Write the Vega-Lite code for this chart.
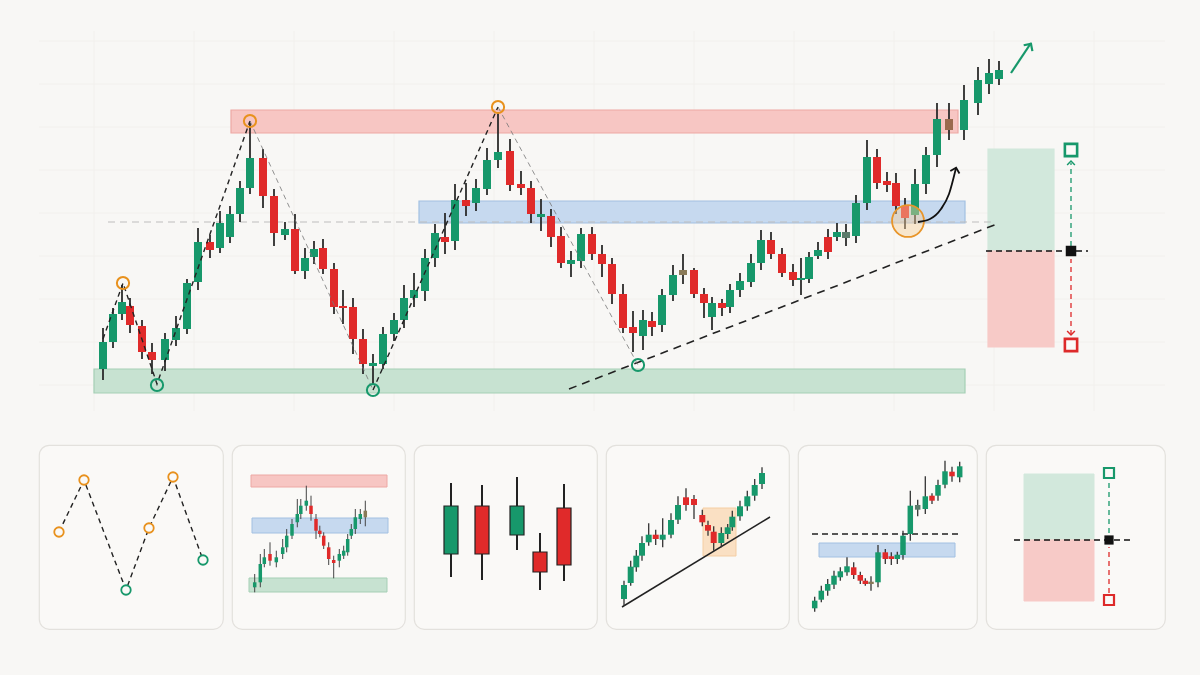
{
"$schema": "https://vega.github.io/schema/vega-lite/v6.json",
"background": "#f8f7f5",
"padding": {"left": 38, "top": 30, "right": 36, "bottom": 45},
"spacing": 32,
"center": false,
"config": {"view": {"stroke": null}, "legend": {"disable": true}},
"datasets": {
"cm": [
{"x":102,"o":32,"c":59,"h":73,"l":21,"k":"up"},
{"x":112,"o":59,"c":87,"h":93,"l":53,"k":"up"},
{"x":121,"o":87,"c":99,"h":116,"l":81,"k":"up"},
{"x":129,"o":95,"c":76,"h":103,"l":68,"k":"dn"},
{"x":141,"o":75,"c":49,"h":81,"l":42,"k":"dn"},
{"x":151,"o":49,"c":41,"h":58,"l":27,"k":"dn"},
{"x":164,"o":41,"c":62,"h":68,"l":30,"k":"up"},
{"x":175,"o":61,"c":73,"h":85,"l":55,"k":"up"},
{"x":186,"o":72,"c":118,"h":122,"l":67,"k":"up"},
{"x":197,"o":119,"c":159,"h":173,"l":111,"k":"up"},
{"x":209,"o":159,"c":151,"h":166,"l":143,"k":"dn"},
{"x":219,"o":153,"c":178,"h":190,"l":148,"k":"up"},
{"x":229,"o":164,"c":187,"h":195,"l":158,"k":"up"},
{"x":239,"o":187,"c":213,"h":220,"l":179,"k":"up"},
{"x":249,"o":213,"c":243,"h":278,"l":207,"k":"up"},
{"x":262,"o":243,"c":205,"h":252,"l":193,"k":"dn"},
{"x":273,"o":205,"c":168,"h":212,"l":155,"k":"dn"},
{"x":284,"o":166,"c":172,"h":179,"l":161,"k":"up"},
{"x":294,"o":172,"c":130,"h":187,"l":127,"k":"dn"},
{"x":304,"o":130,"c":143,"h":153,"l":122,"k":"up"},
{"x":313,"o":144,"c":152,"h":160,"l":137,"k":"up"},
{"x":322,"o":153,"c":132,"h":162,"l":127,"k":"dn"},
{"x":333,"o":132,"c":94,"h":138,"l":87,"k":"dn"},
{"x":342,"o":95,"c":93,"h":111,"l":77,"k":"dn"},
{"x":352,"o":94,"c":62,"h":103,"l":47,"k":"dn"},
{"x":362,"o":62,"c":37,"h":72,"l":27,"k":"dn"},
{"x":372,"o":35,"c":38,"h":47,"l":17,"k":"up"},
{"x":382,"o":37,"c":67,"h":74,"l":32,"k":"up"},
{"x":393,"o":67,"c":81,"h":88,"l":60,"k":"up"},
{"x":403,"o":81,"c":103,"h":116,"l":73,"k":"up"},
{"x":413,"o":103,"c":111,"h":128,"l":94,"k":"up"},
{"x":424,"o":110,"c":143,"h":152,"l":100,"k":"up"},
{"x":434,"o":143,"c":168,"h":177,"l":134,"k":"up"},
{"x":444,"o":164,"c":159,"h":188,"l":147,"k":"dn"},
{"x":454,"o":160,"c":201,"h":217,"l":151,"k":"up"},
{"x":465,"o":201,"c":195,"h":218,"l":185,"k":"dn"},
{"x":475,"o":198,"c":213,"h":222,"l":190,"k":"up"},
{"x":486,"o":212,"c":241,"h":253,"l":206,"k":"up"},
{"x":497,"o":241,"c":249,"h":288,"l":233,"k":"up"},
{"x":509,"o":250,"c":216,"h":262,"l":210,"k":"dn"},
{"x":520,"o":217,"c":213,"h":230,"l":206,"k":"dn"},
{"x":530,"o":213,"c":187,"h":220,"l":178,"k":"dn"},
{"x":540,"o":184,"c":187,"h":202,"l":170,"k":"up"},
{"x":550,"o":185,"c":164,"h":192,"l":154,"k":"dn"},
{"x":560,"o":165,"c":138,"h":174,"l":133,"k":"dn"},
{"x":570,"o":137,"c":141,"h":150,"l":124,"k":"up"},
{"x":580,"o":140,"c":167,"h":173,"l":133,"k":"up"},
{"x":591,"o":167,"c":147,"h":174,"l":141,"k":"dn"},
{"x":601,"o":147,"c":137,"h":156,"l":124,"k":"dn"},
{"x":611,"o":137,"c":107,"h":143,"l":97,"k":"dn"},
{"x":622,"o":107,"c":73,"h":117,"l":68,"k":"dn"},
{"x":632,"o":74,"c":68,"h":90,"l":49,"k":"dn"},
{"x":642,"o":65,"c":81,"h":91,"l":51,"k":"up"},
{"x":651,"o":80,"c":74,"h":89,"l":65,"k":"dn"},
{"x":661,"o":76,"c":106,"h":112,"l":69,"k":"up"},
{"x":672,"o":106,"c":126,"h":136,"l":100,"k":"up"},
{"x":682,"o":126,"c":131,"h":147,"l":117,"k":"nb"},
{"x":693,"o":131,"c":107,"h":133,"l":103,"k":"dn"},
{"x":703,"o":107,"c":98,"h":113,"l":83,"k":"dn"},
{"x":711,"o":84,"c":98,"h":104,"l":71,"k":"up"},
{"x":721,"o":98,"c":93,"h":102,"l":85,"k":"dn"},
{"x":729,"o":94,"c":111,"h":117,"l":88,"k":"up"},
{"x":739,"o":111,"c":120,"h":128,"l":104,"k":"up"},
{"x":750,"o":119,"c":138,"h":147,"l":114,"k":"up"},
{"x":760,"o":138,"c":161,"h":171,"l":131,"k":"up"},
{"x":770,"o":161,"c":147,"h":169,"l":142,"k":"dn"},
{"x":781,"o":147,"c":128,"h":153,"l":124,"k":"dn"},
{"x":792,"o":129,"c":121,"h":137,"l":115,"k":"dn"},
{"x":800,"o":121,"c":123,"h":143,"l":106,"k":"up"},
{"x":808,"o":122,"c":144,"h":149,"l":118,"k":"up"},
{"x":817,"o":145,"c":151,"h":159,"l":142,"k":"up"},
{"x":827,"o":164,"c":149,"h":172,"l":142,"k":"dn"},
{"x":836,"o":164,"c":169,"h":178,"l":160,"k":"up"},
{"x":845,"o":163,"c":169,"h":177,"l":155,"k":"ng"},
{"x":855,"o":165,"c":198,"h":206,"l":158,"k":"up"},
{"x":866,"o":198,"c":244,"h":261,"l":191,"k":"up"},
{"x":876,"o":244,"c":218,"h":252,"l":212,"k":"dn"},
{"x":886,"o":220,"c":216,"h":229,"l":209,"k":"dn"},
{"x":895,"o":218,"c":195,"h":228,"l":187,"k":"dn"},
{"x":904,"o":195,"c":183,"h":203,"l":172,"k":"dn"},
{"x":914,"o":186,"c":217,"h":232,"l":177,"k":"up"},
{"x":925,"o":217,"c":246,"h":254,"l":207,"k":"up"},
{"x":936,"o":246,"c":282,"h":298,"l":234,"k":"up"},
{"x":948,"o":282,"c":271,"h":298,"l":261,"k":"nr"},
{"x":963,"o":271,"c":301,"h":316,"l":261,"k":"up"},
{"x":977,"o":298,"c":321,"h":334,"l":286,"k":"up"},
{"x":988,"o":317,"c":328,"h":342,"l":307,"k":"up"},
{"x":998,"o":322,"c":331,"h":340,"l":316,"k":"up"}
],
"c2": [
{"x":22.7,"o":41.7,"c":46.7,"h":55,"l":36.7,"k":"up"},
{"x":28.3,"o":46.7,"c":65,"h":75,"l":41.7,"k":"up"},
{"x":32.3,"o":65,"c":71.7,"h":80,"l":61.7,"k":"up"},
{"x":38,"o":75,"c":68.3,"h":86.7,"l":63.3,"k":"dn"},
{"x":44.3,"o":66.7,"c":71.7,"h":78.3,"l":61.7,"k":"up"},
{"x":50.7,"o":75,"c":81.7,"h":90,"l":70,"k":"up"},
{"x":54.7,"o":81.7,"c":93.3,"h":100,"l":76.7,"k":"up"},
{"x":60,"o":93.3,"c":105,"h":110,"l":90,"k":"up"},
{"x":65.3,"o":106.7,"c":115,"h":130,"l":101.7,"k":"up"},
{"x":68.8,"o":115,"c":123.3,"h":130,"l":110,"k":"up"},
{"x":74.3,"o":123.3,"c":128.3,"h":143.3,"l":118.3,"k":"up"},
{"x":79,"o":123.3,"c":115,"h":133.3,"l":108.3,"k":"dn"},
{"x":84,"o":110,"c":98.3,"h":115,"l":90,"k":"dn"},
{"x":87.8,"o":98.3,"c":95,"h":103.3,"l":91.7,"k":"dn"},
{"x":91.7,"o":93.3,"c":83.3,"h":96.7,"l":80,"k":"dn"},
{"x":96.7,"o":81.7,"c":70,"h":86.7,"l":64,"k":"dn"},
{"x":101.7,"o":69,"c":66,"h":73.3,"l":50.7,"k":"dn"},
{"x":107.3,"o":68.3,"c":75,"h":80,"l":61.7,"k":"up"},
{"x":111.7,"o":73.3,"c":78.3,"h":83.3,"l":70,"k":"up"},
{"x":115.7,"o":76.7,"c":90,"h":95,"l":73.3,"k":"up"},
{"x":119.3,"o":93.3,"c":100,"h":105,"l":90,"k":"up"},
{"x":123.3,"o":100,"c":111.7,"h":120,"l":95,"k":"up"},
{"x":128.3,"o":110,"c":115,"h":120,"l":105,"k":"up"},
{"x":133.3,"o":118.3,"c":111.7,"h":128.3,"l":102.7,"k":"nb"}
],
"c3": [
{"x":37,"o":75,"c":123,"h":146,"l":52,"k":"up"},
{"x":68,"o":123,"c":75,"h":144,"l":49,"k":"dn"},
{"x":103,"o":94,"c":123,"h":152,"l":79,"k":"up"},
{"x":126,"o":77,"c":57,"h":96,"l":39,"k":"dn"},
{"x":150,"o":121,"c":64,"h":145,"l":48,"k":"dn"}
],
"c4": [
{"x":18,"o":30,"c":44,"h":48.3,"l":23.3,"k":"up"},
{"x":24.7,"o":46,"c":62.3,"h":68.3,"l":43.3,"k":"up"},
{"x":30.3,"o":61.7,"c":73.3,"h":79,"l":57.3,"k":"up"},
{"x":36,"o":73.3,"c":86,"h":92.7,"l":68.3,"k":"up"},
{"x":42.7,"o":86.7,"c":94.3,"h":105.7,"l":83.3,"k":"up"},
{"x":49.7,"o":94.3,"c":90,"h":99.3,"l":84,"k":"dn"},
{"x":56.7,"o":89.3,"c":94.3,"h":110.7,"l":81.7,"k":"up"},
{"x":65,"o":94.3,"c":109,"h":115.7,"l":90.7,"k":"up"},
{"x":72,"o":109.3,"c":124,"h":132.7,"l":105,"k":"up"},
{"x":80,"o":131.7,"c":124,"h":140.7,"l":118.3,"k":"dn"},
{"x":88,"o":130,"c":124,"h":134,"l":110,"k":"dn"},
{"x":96.3,"o":114,"c":106.7,"h":119.3,"l":102.7,"k":"dn"},
{"x":102,"o":104,"c":98.3,"h":108.3,"l":93.3,"k":"dn"},
{"x":107.7,"o":97.3,"c":86,"h":102.7,"l":78.3,"k":"dn"},
{"x":115.3,"o":86,"c":96,"h":101.7,"l":81.7,"k":"up"},
{"x":121.7,"o":95,"c":101.7,"h":105,"l":90,"k":"up"},
{"x":126.3,"o":101.7,"c":112.3,"h":118.3,"l":98.3,"k":"up"},
{"x":134,"o":112.7,"c":122.7,"h":128.3,"l":108.3,"k":"up"},
{"x":141.3,"o":122.7,"c":132.7,"h":138.3,"l":118.3,"k":"up"},
{"x":148.7,"o":133.3,"c":144,"h":150,"l":128.3,"k":"up"},
{"x":156,"o":145,"c":156,"h":161.7,"l":140,"k":"up"}
],
"c5": [
{"x":16.7,"o":20.7,"c":28.3,"h":32.3,"l":17.3,"k":"up"},
{"x":23.3,"o":29.3,"c":38.3,"h":43.3,"l":26.7,"k":"up"},
{"x":29.7,"o":38.3,"c":45,"h":50,"l":33.3,"k":"up"},
{"x":36,"o":44.3,"c":53.3,"h":58.3,"l":40,"k":"up"},
{"x":42.3,"o":51.7,"c":57.7,"h":61.7,"l":48.3,"k":"up"},
{"x":49,"o":56.7,"c":62.7,"h":71.7,"l":53.3,"k":"up"},
{"x":55.7,"o":61.7,"c":54,"h":66.7,"l":50,"k":"dn"},
{"x":62.3,"o":54,"c":48.3,"h":57.3,"l":45,"k":"dn"},
{"x":67.3,"o":48.3,"c":45,"h":50.7,"l":43.3,"k":"dn"},
{"x":73,"o":47.3,"c":45,"h":52.7,"l":38.3,"k":"nb"},
{"x":80,"o":46.7,"c":76.7,"h":84,"l":41.7,"k":"up"},
{"x":87.3,"o":76.7,"c":70,"h":80,"l":65,"k":"dn"},
{"x":93.3,"o":72.7,"c":70,"h":76.7,"l":64,"k":"dn"},
{"x":99.3,"o":70,"c":74.3,"h":77.3,"l":65,"k":"up"},
{"x":105,"o":74,"c":93.3,"h":98.3,"l":69.3,"k":"up"},
{"x":112.3,"o":95,"c":123.3,"h":138.3,"l":88.3,"k":"up"},
{"x":119.7,"o":119.3,"c":124,"h":129.3,"l":112.7,"k":"ng"},
{"x":127.3,"o":120,"c":132.7,"h":152.7,"l":115,"k":"up"},
{"x":134,"o":133.3,"c":128.3,"h":135.7,"l":125,"k":"dn"},
{"x":140,"o":133.3,"c":144,"h":149.3,"l":128.3,"k":"up"},
{"x":147,"o":144.3,"c":157.7,"h":168.3,"l":140.7,"k":"up"},
{"x":154,"o":157.3,"c":152.7,"h":162.3,"l":147.3,"k":"dn"},
{"x":161.7,"o":151.7,"c":162.7,"h":167.3,"l":146.7,"k":"up"}
]
},
"vconcat": [
{
"width": 1126,
"height": 380,
"layer": [
{"data": {"values": [{"x":93},{"x":193},{"x":293},{"x":393},{"x":493},{"x":593},{"x":693},{"x":793},{"x":893},{"x":993},{"x":1093}]},
 "mark": {"type": "rule", "stroke": "#f2f0ed", "strokeWidth": 1},
 "encoding": {"x": {"field":"x","type":"quantitative","scale":{"domain":[38,1164],"padding":0},"axis":null}}},
{"data": {"values": [{"y":360},{"y":317},{"y":274},{"y":231},{"y":188},{"y":145},{"y":102},{"y":59},{"y":16}]},
 "mark": {"type": "rule", "stroke": "#f2f0ed", "strokeWidth": 1},
 "encoding": {"y": {"field":"y","type":"quantitative","scale":{"domain":[-10,370]},"axis":null}}},
{"data": {"values": [
  {"x":230,"x2":957,"y":268,"y2":291,"z":"res"},
  {"x":418,"x2":964,"y":178,"y2":200,"z":"mid"},
  {"x":93,"x2":964,"y":8,"y2":32,"z":"sup"},
  {"x":987,"x2":1053,"y":150,"y2":252,"z":"rew"},
  {"x":987,"x2":1053,"y":54,"y2":150,"z":"risk"}]},
 "mark": {"type": "rect", "strokeWidth": 1.2},
 "encoding": {
  "x": {"field":"x","type":"quantitative","scale":{"domain":[38,1164],"padding":0},"axis":null},
  "x2": {"field":"x2"},
  "y": {"field":"y","type":"quantitative","scale":{"domain":[-10,370]},"axis":null},
  "y2": {"field":"y2"},
  "fill": {"field":"z","type":"nominal","scale":{"domain":["res","mid","sup","rew","risk","ob"],"range":["#f7c6c3","#c6d9ef","#c7e2d1","#d2e8dc","#f7cac7","#fadcbb"]},"legend":null},
  "stroke": {"field":"z","type":"nominal","scale":{"domain":["res","mid","sup","rew","risk","ob"],"range":["#eda8a4","#a2c0e2","#a5cfb5","#d2e8dc","#f7cac7","#f4c795"]},"legend":null}}},
{"data": {"values": [{"x":107,"x2":993,"y":179}]},
 "mark": {"type": "rule", "stroke": "#bdbdbd", "strokeDash": [7,5], "strokeWidth": 1.2},
 "encoding": {
  "x": {"field":"x","type":"quantitative","scale":{"domain":[38,1164],"padding":0},"axis":null},
  "x2": {"field":"x2"},
  "y": {"field":"y","type":"quantitative","scale":{"domain":[-10,370]},"axis":null}}},
{"data": {"values": [{"x":568,"y":12,"x2":996,"y2":177}]},
 "mark": {"type": "rule", "stroke": "#222222", "strokeDash": [8,6], "strokeWidth": 1.6},
 "encoding": {
  "x": {"field":"x","type":"quantitative","scale":{"domain":[38,1164],"padding":0},"axis":null},
  "x2": {"field":"x2"},
  "y": {"field":"y","type":"quantitative","scale":{"domain":[-10,370]},"axis":null},
  "y2": {"field":"y2"}}},
{"data": {"name": "cm"},
 "mark": {"type": "rule", "stroke": "#2b2b2b", "strokeWidth": 1.8},
 "encoding": {
  "x": {"field":"x","type":"quantitative","scale":{"domain":[38,1164],"padding":0},"axis":null},
  "y": {"field":"l","type":"quantitative","scale":{"domain":[-10,370]},"axis":null},
  "y2": {"field":"h"}}},
{"data": {"name": "cm"},
 "mark": {"type": "bar", "orient": "vertical", "width": 8},
 "encoding": {
  "x": {"field":"x","type":"quantitative","scale":{"domain":[38,1164],"padding":0},"axis":null},
  "y": {"field":"o","type":"quantitative","scale":{"domain":[-10,370]},"axis":null},
  "y2": {"field":"c"},
  "color": {"field":"k","type":"nominal","scale":{"domain":["up","dn","nb","ng","nr"],"range":["#17986b","#e02a2a","#8a7a58","#5c7b6b","#9a6a4e"]},"legend":null}}},
{"data": {"values": [{"s":"A","x":102,"y":62},{"s":"A","x":122,"y":118},{"s":"A","x":156,"y":17},{"s":"A","x":249,"y":280},{"s":"C","x":372,"y":11},{"s":"C","x":497,"y":294}]},
 "mark": {"type": "line", "stroke": "#222222", "strokeDash": [5,4], "strokeWidth": 1.4},
 "encoding": {
  "x": {"field":"x","type":"quantitative","scale":{"domain":[38,1164],"padding":0},"axis":null},
  "y": {"field":"y","type":"quantitative","scale":{"domain":[-10,370]},"axis":null},
  "detail": {"field":"s"}}},
{"data": {"values": [{"s":"B","x":249,"y":280},{"s":"B","x":372,"y":11},{"s":"D","x":497,"y":294},{"s":"D","x":637,"y":36}]},
 "mark": {"type": "line", "stroke": "#777777", "strokeDash": [5,4], "strokeWidth": 1, "opacity": 0.8},
 "encoding": {
  "x": {"field":"x","type":"quantitative","scale":{"domain":[38,1164],"padding":0},"axis":null},
  "y": {"field":"y","type":"quantitative","scale":{"domain":[-10,370]},"axis":null},
  "detail": {"field":"s"}}},
{"data": {"values": [{"x":122,"y":118},{"x":249,"y":280},{"x":497,"y":294}]},
 "mark": {"type": "point", "shape": "circle", "filled": false, "stroke": "#e8911d", "strokeWidth": 2, "size": 150, "opacity": 1},
 "encoding": {
  "x": {"field":"x","type":"quantitative","scale":{"domain":[38,1164],"padding":0},"axis":null},
  "y": {"field":"y","type":"quantitative","scale":{"domain":[-10,370]},"axis":null}}},
{"data": {"values": [{"x":156,"y":16},{"x":372,"y":11},{"x":637,"y":36}]},
 "mark": {"type": "point", "shape": "circle", "filled": false, "stroke": "#17986b", "strokeWidth": 2, "size": 150, "opacity": 1},
 "encoding": {
  "x": {"field":"x","type":"quantitative","scale":{"domain":[38,1164],"padding":0},"axis":null},
  "y": {"field":"y","type":"quantitative","scale":{"domain":[-10,370]},"axis":null}}},
{"data": {"values": [{"x":907,"y":180}]},
 "mark": {"type": "point", "shape": "circle", "filled": true, "fill": "#f6d09e", "fillOpacity": 0.45, "stroke": "#e8952a", "strokeWidth": 1.8, "strokeOpacity": 1, "size": 1018},
 "encoding": {
  "x": {"field":"x","type":"quantitative","scale":{"domain":[38,1164],"padding":0},"axis":null},
  "y": {"field":"y","type":"quantitative","scale":{"domain":[-10,370]},"axis":null}}},
{"data": {"values": [{"x":917,"y":179},{"x":929,"y":182},{"x":940,"y":192},{"x":948,"y":207},{"x":955,"y":233}]},
 "mark": {"type": "line", "interpolate": "monotone", "stroke": "#111111", "strokeWidth": 1.8},
 "encoding": {
  "x": {"field":"x","type":"quantitative","scale":{"domain":[38,1164],"padding":0},"axis":null},
  "y": {"field":"y","type":"quantitative","scale":{"domain":[-10,370]},"axis":null}}},
{"data": {"values": [{"x":954.5,"y":231}]},
 "mark": {"type": "point", "shape": "M-1,0.5L0,-0.5L1,0.5", "filled": false, "stroke": "#111111", "strokeWidth": 1.8, "size": 90, "angle": 15, "opacity": 1},
 "encoding": {
  "x": {"field":"x","type":"quantitative","scale":{"domain":[38,1164],"padding":0},"axis":null},
  "y": {"field":"y","type":"quantitative","scale":{"domain":[-10,370]},"axis":null}}},
{"data": {"values": [{"x":1010,"y":328},{"x":1030,"y":358}]},
 "mark": {"type": "line", "stroke": "#17986b", "strokeWidth": 2.2},
 "encoding": {
  "x": {"field":"x","type":"quantitative","scale":{"domain":[38,1164],"padding":0},"axis":null},
  "y": {"field":"y","type":"quantitative","scale":{"domain":[-10,370]},"axis":null}}},
{"data": {"values": [{"x":1028.5,"y":355}]},
 "mark": {"type": "point", "shape": "M-1,0.5L0,-0.5L1,0.5", "filled": false, "stroke": "#17986b", "strokeWidth": 2.2, "size": 110, "angle": 34, "opacity": 1},
 "encoding": {
  "x": {"field":"x","type":"quantitative","scale":{"domain":[38,1164],"padding":0},"axis":null},
  "y": {"field":"y","type":"quantitative","scale":{"domain":[-10,370]},"axis":null}}},
{"data": {"values": [{"x":985,"x2":1087,"y":150}]},
 "mark": {"type": "rule", "stroke": "#111111", "strokeDash": [6,4], "strokeWidth": 1.5},
 "encoding": {
  "x": {"field":"x","type":"quantitative","scale":{"domain":[38,1164],"padding":0},"axis":null},
  "x2": {"field":"x2"},
  "y": {"field":"y","type":"quantitative","scale":{"domain":[-10,370]},"axis":null}}},
{"data": {"values": [{"x":1070,"y":155,"y2":238}]},
 "mark": {"type": "rule", "stroke": "#17986b", "strokeDash": [5,4], "strokeWidth": 1.3},
 "encoding": {
  "x": {"field":"x","type":"quantitative","scale":{"domain":[38,1164],"padding":0},"axis":null},
  "y": {"field":"y","type":"quantitative","scale":{"domain":[-10,370]},"axis":null},
  "y2": {"field":"y2"}}},
{"data": {"values": [{"x":1070,"y":66,"y2":142}]},
 "mark": {"type": "rule", "stroke": "#dd2a2a", "strokeDash": [5,4], "strokeWidth": 1.3},
 "encoding": {
  "x": {"field":"x","type":"quantitative","scale":{"domain":[38,1164],"padding":0},"axis":null},
  "y": {"field":"y","type":"quantitative","scale":{"domain":[-10,370]},"axis":null},
  "y2": {"field":"y2"}}},
{"data": {"values": [{"x":1070,"y":238}]},
 "mark": {"type": "point", "shape": "M-1,0.5L0,-0.5L1,0.5", "filled": false, "stroke": "#17986b", "strokeWidth": 1.5, "size": 60, "opacity": 1},
 "encoding": {
  "x": {"field":"x","type":"quantitative","scale":{"domain":[38,1164],"padding":0},"axis":null},
  "y": {"field":"y","type":"quantitative","scale":{"domain":[-10,370]},"axis":null}}},
{"data": {"values": [{"x":1070,"y":68}]},
 "mark": {"type": "point", "shape": "M-1,0.5L0,-0.5L1,0.5", "filled": false, "stroke": "#dd2a2a", "strokeWidth": 1.5, "size": 60, "angle": 180, "opacity": 1},
 "encoding": {
  "x": {"field":"x","type":"quantitative","scale":{"domain":[38,1164],"padding":0},"axis":null},
  "y": {"field":"y","type":"quantitative","scale":{"domain":[-10,370]},"axis":null}}},
{"data": {"values": [{"x":1070,"y":251}]},
 "mark": {"type": "point", "shape": "square", "filled": true, "fill": "#fbfaf8", "stroke": "#17986b", "strokeWidth": 2.6, "size": 150, "opacity": 1},
 "encoding": {
  "x": {"field":"x","type":"quantitative","scale":{"domain":[38,1164],"padding":0},"axis":null},
  "y": {"field":"y","type":"quantitative","scale":{"domain":[-10,370]},"axis":null}}},
{"data": {"values": [{"x":1070,"y":56}]},
 "mark": {"type": "point", "shape": "square", "filled": true, "fill": "#fbfaf8", "stroke": "#dd2a2a", "strokeWidth": 2.6, "size": 150, "opacity": 1},
 "encoding": {
  "x": {"field":"x","type":"quantitative","scale":{"domain":[38,1164],"padding":0},"axis":null},
  "y": {"field":"y","type":"quantitative","scale":{"domain":[-10,370]},"axis":null}}},
{"data": {"values": [{"x":1070,"y":150}]},
 "mark": {"type": "point", "shape": "square", "filled": true, "color": "#111111", "size": 110, "opacity": 1},
 "encoding": {
  "x": {"field":"x","type":"quantitative","scale":{"domain":[38,1164],"padding":0},"axis":null},
  "y": {"field":"y","type":"quantitative","scale":{"domain":[-10,370]},"axis":null}}}
]
},
{
"spacing": 7,
"hconcat": [
{
"width": 184, "height": 184,
"view": {"stroke": "#e3e1dd", "strokeWidth": 1.2, "cornerRadius": 10, "fill": "#faf9f7"},
"layer": [
{"data": {"values": [{"x":20,"y":97},{"x":45,"y":149},{"x":87,"y":39},{"x":110,"y":101},{"x":134,"y":152},{"x":164,"y":69}]},
 "mark": {"type": "line", "stroke": "#222222", "strokeDash": [5,4], "strokeWidth": 1.4},
 "encoding": {
  "x": {"field":"x","type":"quantitative","scale":{"domain":[0,184]},"axis":null},
  "y": {"field":"y","type":"quantitative","scale":{"domain":[0,184]},"axis":null}}},
{"data": {"values": [{"x":20,"y":97},{"x":45,"y":149},{"x":110,"y":101},{"x":134,"y":152}]},
 "mark": {"type": "point", "shape": "circle", "filled": true, "fill": "#faf9f7", "stroke": "#e8911d", "strokeWidth": 1.8, "size": 90, "opacity": 1},
 "encoding": {
  "x": {"field":"x","type":"quantitative","scale":{"domain":[0,184]},"axis":null},
  "y": {"field":"y","type":"quantitative","scale":{"domain":[0,184]},"axis":null}}},
{"data": {"values": [{"x":87,"y":39},{"x":164,"y":69}]},
 "mark": {"type": "point", "shape": "circle", "filled": true, "fill": "#faf9f7", "stroke": "#17986b", "strokeWidth": 1.8, "size": 90, "opacity": 1},
 "encoding": {
  "x": {"field":"x","type":"quantitative","scale":{"domain":[0,184]},"axis":null},
  "y": {"field":"y","type":"quantitative","scale":{"domain":[0,184]},"axis":null}}}
]
},
{
"width": 173, "height": 184,
"view": {"stroke": "#e3e1dd", "strokeWidth": 1.2, "cornerRadius": 10, "fill": "#faf9f7"},
"layer": [
{"data": {"values": [
  {"x":19,"x2":155,"y":142,"y2":154,"z":"res"},
  {"x":20,"x2":156,"y":96,"y2":111,"z":"mid"},
  {"x":17,"x2":155,"y":37,"y2":51,"z":"sup"}]},
 "mark": {"type": "rect", "strokeWidth": 1},
 "encoding": {
  "x": {"field":"x","type":"quantitative","scale":{"domain":[0,173],"padding":0},"axis":null},
  "x2": {"field":"x2"},
  "y": {"field":"y","type":"quantitative","scale":{"domain":[0,184]},"axis":null},
  "y2": {"field":"y2"},
  "fill": {"field":"z","type":"nominal","scale":{"domain":["res","mid","sup","rew","risk","ob"],"range":["#f7c6c3","#c6d9ef","#c7e2d1","#d2e8dc","#f7cac7","#fadcbb"]},"legend":null},
  "stroke": {"field":"z","type":"nominal","scale":{"domain":["res","mid","sup","rew","risk","ob"],"range":["#eda8a4","#a2c0e2","#a5cfb5","#d2e8dc","#f7cac7","#f4c795"]},"legend":null}}},
{"data": {"name": "c2"},
 "mark": {"type": "rule", "stroke": "#444444", "strokeWidth": 1},
 "encoding": {
  "x": {"field":"x","type":"quantitative","scale":{"domain":[0,173],"padding":0},"axis":null},
  "y": {"field":"l","type":"quantitative","scale":{"domain":[0,184]},"axis":null},
  "y2": {"field":"h"}}},
{"data": {"name": "c2"},
 "mark": {"type": "bar", "orient": "vertical", "width": 3.5},
 "encoding": {
  "x": {"field":"x","type":"quantitative","scale":{"domain":[0,173],"padding":0},"axis":null},
  "y": {"field":"o","type":"quantitative","scale":{"domain":[0,184]},"axis":null},
  "y2": {"field":"c"},
  "color": {"field":"k","type":"nominal","scale":{"domain":["up","dn","nb","ng","nr"],"range":["#17986b","#e02a2a","#8a7a58","#5c7b6b","#9a6a4e"]},"legend":null}}}
]
},
{
"width": 183, "height": 184,
"view": {"stroke": "#e3e1dd", "strokeWidth": 1.2, "cornerRadius": 10, "fill": "#faf9f7"},
"layer": [
{"data": {"name": "c3"},
 "mark": {"type": "rule", "stroke": "#222222", "strokeWidth": 2},
 "encoding": {
  "x": {"field":"x","type":"quantitative","scale":{"domain":[0,183],"padding":0},"axis":null},
  "y": {"field":"l","type":"quantitative","scale":{"domain":[0,184]},"axis":null},
  "y2": {"field":"h"}}},
{"data": {"name": "c3"},
 "mark": {"type": "bar", "orient": "vertical", "width": 14, "stroke": "#222222", "strokeWidth": 1.2},
 "encoding": {
  "x": {"field":"x","type":"quantitative","scale":{"domain":[0,183],"padding":0},"axis":null},
  "y": {"field":"o","type":"quantitative","scale":{"domain":[0,184]},"axis":null},
  "y2": {"field":"c"},
  "color": {"field":"k","type":"nominal","scale":{"domain":["up","dn","nb","ng","nr"],"range":["#17986b","#e02a2a","#8a7a58","#5c7b6b","#9a6a4e"]},"legend":null}}}
]
},
{
"width": 183, "height": 184,
"view": {"stroke": "#e3e1dd", "strokeWidth": 1.2, "cornerRadius": 10, "fill": "#faf9f7"},
"layer": [
{"data": {"values": [{"x":97,"x2":130,"y":73,"y2":121,"z":"ob"}]},
 "mark": {"type": "rect", "strokeWidth": 1, "opacity": 0.85},
 "encoding": {
  "x": {"field":"x","type":"quantitative","scale":{"domain":[0,183],"padding":0},"axis":null},
  "x2": {"field":"x2"},
  "y": {"field":"y","type":"quantitative","scale":{"domain":[0,184]},"axis":null},
  "y2": {"field":"y2"},
  "fill": {"field":"z","type":"nominal","scale":{"domain":["res","mid","sup","rew","risk","ob"],"range":["#f7c6c3","#c6d9ef","#c7e2d1","#d2e8dc","#f7cac7","#fadcbb"]},"legend":null},
  "stroke": {"field":"z","type":"nominal","scale":{"domain":["res","mid","sup","rew","risk","ob"],"range":["#eda8a4","#a2c0e2","#a5cfb5","#d2e8dc","#f7cac7","#f4c795"]},"legend":null}}},
{"data": {"values": [{"x":16,"y":22,"x2":164,"y2":112}]},
 "mark": {"type": "rule", "stroke": "#222222", "strokeWidth": 1.5},
 "encoding": {
  "x": {"field":"x","type":"quantitative","scale":{"domain":[0,183],"padding":0},"axis":null},
  "x2": {"field":"x2"},
  "y": {"field":"y","type":"quantitative","scale":{"domain":[0,184]},"axis":null},
  "y2": {"field":"y2"}}},
{"data": {"name": "c4"},
 "mark": {"type": "rule", "stroke": "#333333", "strokeWidth": 1.3},
 "encoding": {
  "x": {"field":"x","type":"quantitative","scale":{"domain":[0,183],"padding":0},"axis":null},
  "y": {"field":"l","type":"quantitative","scale":{"domain":[0,184]},"axis":null},
  "y2": {"field":"h"}}},
{"data": {"name": "c4"},
 "mark": {"type": "bar", "orient": "vertical", "width": 6},
 "encoding": {
  "x": {"field":"x","type":"quantitative","scale":{"domain":[0,183],"padding":0},"axis":null},
  "y": {"field":"o","type":"quantitative","scale":{"domain":[0,184]},"axis":null},
  "y2": {"field":"c"},
  "color": {"field":"k","type":"nominal","scale":{"domain":["up","dn","nb","ng","nr"],"range":["#17986b","#e02a2a","#8a7a58","#5c7b6b","#9a6a4e"]},"legend":null}}}
]
},
{
"width": 179, "height": 184,
"view": {"stroke": "#e3e1dd", "strokeWidth": 1.2, "cornerRadius": 10, "fill": "#faf9f7"},
"layer": [
{"data": {"values": [{"x":21,"x2":157,"y":72,"y2":86,"z":"mid"}]},
 "mark": {"type": "rect", "strokeWidth": 1},
 "encoding": {
  "x": {"field":"x","type":"quantitative","scale":{"domain":[0,179],"padding":0},"axis":null},
  "x2": {"field":"x2"},
  "y": {"field":"y","type":"quantitative","scale":{"domain":[0,184]},"axis":null},
  "y2": {"field":"y2"},
  "fill": {"field":"z","type":"nominal","scale":{"domain":["res","mid","sup","rew","risk","ob"],"range":["#f7c6c3","#c6d9ef","#c7e2d1","#d2e8dc","#f7cac7","#fadcbb"]},"legend":null},
  "stroke": {"field":"z","type":"nominal","scale":{"domain":["res","mid","sup","rew","risk","ob"],"range":["#eda8a4","#a2c0e2","#a5cfb5","#d2e8dc","#f7cac7","#f4c795"]},"legend":null}}},
{"data": {"values": [{"x":14,"x2":162,"y":95}]},
 "mark": {"type": "rule", "stroke": "#222222", "strokeDash": [6,4], "strokeWidth": 1.5},
 "encoding": {
  "x": {"field":"x","type":"quantitative","scale":{"domain":[0,179],"padding":0},"axis":null},
  "x2": {"field":"x2"},
  "y": {"field":"y","type":"quantitative","scale":{"domain":[0,184]},"axis":null}}},
{"data": {"name": "c5"},
 "mark": {"type": "rule", "stroke": "#333333", "strokeWidth": 1.3},
 "encoding": {
  "x": {"field":"x","type":"quantitative","scale":{"domain":[0,179],"padding":0},"axis":null},
  "y": {"field":"l","type":"quantitative","scale":{"domain":[0,184]},"axis":null},
  "y2": {"field":"h"}}},
{"data": {"name": "c5"},
 "mark": {"type": "bar", "orient": "vertical", "width": 5.5},
 "encoding": {
  "x": {"field":"x","type":"quantitative","scale":{"domain":[0,179],"padding":0},"axis":null},
  "y": {"field":"o","type":"quantitative","scale":{"domain":[0,184]},"axis":null},
  "y2": {"field":"c"},
  "color": {"field":"k","type":"nominal","scale":{"domain":["up","dn","nb","ng","nr"],"range":["#17986b","#e02a2a","#8a7a58","#5c7b6b","#9a6a4e"]},"legend":null}}}
]
},
{
"width": 179, "height": 184,
"view": {"stroke": "#e3e1dd", "strokeWidth": 1.2, "cornerRadius": 10, "fill": "#faf9f7"},
"layer": [
{"data": {"values": [
  {"x":38,"x2":108,"y":89,"y2":155,"z":"rew"},
  {"x":38,"x2":108,"y":28,"y2":89,"z":"risk"}]},
 "mark": {"type": "rect", "strokeWidth": 1},
 "encoding": {
  "x": {"field":"x","type":"quantitative","scale":{"domain":[0,179]},"axis":null},
  "x2": {"field":"x2"},
  "y": {"field":"y","type":"quantitative","scale":{"domain":[0,184]},"axis":null},
  "y2": {"field":"y2"},
  "fill": {"field":"z","type":"nominal","scale":{"domain":["res","mid","sup","rew","risk","ob"],"range":["#f7c6c3","#c6d9ef","#c7e2d1","#d2e8dc","#f7cac7","#fadcbb"]},"legend":null},
  "stroke": {"field":"z","type":"nominal","scale":{"domain":["res","mid","sup","rew","risk","ob"],"range":["#eda8a4","#a2c0e2","#a5cfb5","#d2e8dc","#f7cac7","#f4c795"]},"legend":null}}},
{"data": {"values": [{"x":28,"x2":145,"y":89}]},
 "mark": {"type": "rule", "stroke": "#111111", "strokeDash": [6,4], "strokeWidth": 1.5},
 "encoding": {
  "x": {"field":"x","type":"quantitative","scale":{"domain":[0,179]},"axis":null},
  "x2": {"field":"x2"},
  "y": {"field":"y","type":"quantitative","scale":{"domain":[0,184]},"axis":null}}},
{"data": {"values": [{"x":123,"y":96,"y2":148}]},
 "mark": {"type": "rule", "stroke": "#17986b", "strokeDash": [5,4], "strokeWidth": 1.3},
 "encoding": {
  "x": {"field":"x","type":"quantitative","scale":{"domain":[0,179]},"axis":null},
  "y": {"field":"y","type":"quantitative","scale":{"domain":[0,184]},"axis":null},
  "y2": {"field":"y2"}}},
{"data": {"values": [{"x":123,"y":36,"y2":82}]},
 "mark": {"type": "rule", "stroke": "#dd2a2a", "strokeDash": [5,4], "strokeWidth": 1.3},
 "encoding": {
  "x": {"field":"x","type":"quantitative","scale":{"domain":[0,179]},"axis":null},
  "y": {"field":"y","type":"quantitative","scale":{"domain":[0,184]},"axis":null},
  "y2": {"field":"y2"}}},
{"data": {"values": [{"x":123,"y":156}]},
 "mark": {"type": "point", "shape": "square", "filled": true, "fill": "#faf9f7", "stroke": "#17986b", "strokeWidth": 2.2, "size": 100, "opacity": 1},
 "encoding": {
  "x": {"field":"x","type":"quantitative","scale":{"domain":[0,179]},"axis":null},
  "y": {"field":"y","type":"quantitative","scale":{"domain":[0,184]},"axis":null}}},
{"data": {"values": [{"x":123,"y":29}]},
 "mark": {"type": "point", "shape": "square", "filled": true, "fill": "#faf9f7", "stroke": "#dd2a2a", "strokeWidth": 2.2, "size": 100, "opacity": 1},
 "encoding": {
  "x": {"field":"x","type":"quantitative","scale":{"domain":[0,179]},"axis":null},
  "y": {"field":"y","type":"quantitative","scale":{"domain":[0,184]},"axis":null}}},
{"data": {"values": [{"x":123,"y":89}]},
 "mark": {"type": "point", "shape": "square", "filled": true, "color": "#111111", "size": 85, "opacity": 1},
 "encoding": {
  "x": {"field":"x","type":"quantitative","scale":{"domain":[0,179]},"axis":null},
  "y": {"field":"y","type":"quantitative","scale":{"domain":[0,184]},"axis":null}}}
]
}
]
}
]
}
